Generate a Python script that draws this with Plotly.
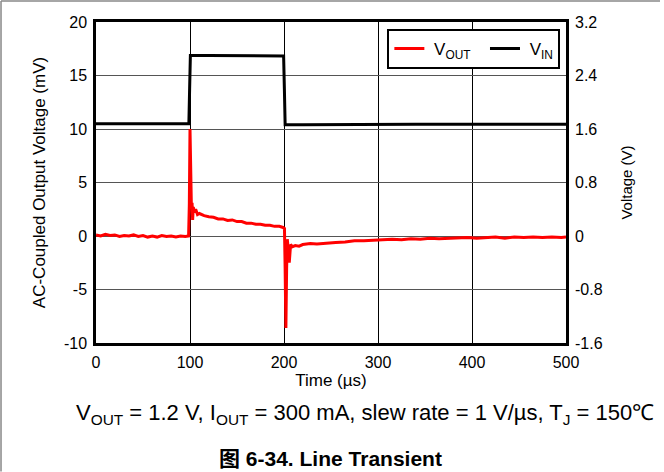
import plotly.graph_objects as go

# ---- data ----
t_vout = [0, 5, 10, 15, 20, 25, 30, 35, 40, 45, 50, 55, 60, 65, 70, 75, 80, 85, 90, 95, 98.5,
          99.3, 100, 100.8, 101.5, 102.2, 102.8, 103.5, 104.5, 106, 108, 110, 115, 120, 125, 130,
          135, 140, 145, 150, 155, 160, 165, 170, 175, 180, 185, 190, 195, 199, 200.5,
          201.2, 202.0, 202.8, 203.5, 204.5, 205.6, 207, 209, 212, 216, 220, 228, 235, 245, 255,
          265, 275, 285, 295, 305, 315, 325, 335, 345, 355, 365, 375, 385, 395, 405, 415, 425,
          435, 445, 455, 465, 475, 485, 495, 500]
v_vout = [0.1, 0.0, 0.15, 0.05, 0.1, -0.05, 0.05, 0.0, 0.1, -0.05, 0.05, -0.1, 0.0, -0.1, 0.05,
          -0.05, 0.0, -0.1, 0.0, -0.05, 0.0,
          3.0, 10.0, 5.0, 2.6, 3.1, 1.5, 2.7, 2.2, 2.5, 2.0, 2.1, 1.9, 1.8, 1.75, 1.6,
          1.6, 1.45, 1.5, 1.35, 1.35, 1.2, 1.2, 1.1, 1.1, 1.0, 1.0, 0.9, 0.9, 0.8, 0.7,
          -3.0, -8.6, -3.0, -0.3, -1.2, -2.5, -0.8, -1.0, -0.9, -0.95, -0.8, -0.7, -0.75, -0.65, -0.6,
          -0.55, -0.45, -0.45, -0.4, -0.35, -0.3, -0.35, -0.25, -0.3, -0.2, -0.25, -0.2, -0.2, -0.15, -0.2, -0.15, -0.1,
          -0.2, -0.1, -0.15, -0.1, -0.15, -0.1, -0.15, -0.1]

t_vin = [0, 20, 40, 60, 80, 98.8, 99.6, 100.4, 120, 140, 160, 180, 199.6, 200.4, 201.2,
         220, 260, 300, 340, 380, 420, 460, 500]
v_vin = [1.68, 1.68, 1.685, 1.68, 1.68, 1.68, 2.2, 2.70, 2.70, 2.695, 2.69, 2.69, 2.69, 2.2, 1.665,
         1.665, 1.67, 1.67, 1.67, 1.67, 1.67, 1.67, 1.67]

x_ticks = [0, 100, 200, 300, 400, 500]
y1_ticks = [-10, -5, 0, 5, 10, 15, 20]
y1_labels = ["-10", "-5", "0", "5", "10", "15", "20"]
y2_ticks = [-1.6, -0.8, 0, 0.8, 1.6, 2.4, 3.2]
y2_labels = ["-1.6", "-0.8", "0", "0.8", "1.6", "2.4", "3.2"]

FONT = "Liberation Sans, Arial, sans-serif"
NB = "\u00a0"

fig = go.Figure()
fig.add_trace(go.Scatter(x=t_vout, y=v_vout, mode="lines", name=NB + "V<sub>OUT</sub>" + NB + NB,
                         line=dict(color="#ff0000", width=3), yaxis="y"))
fig.add_trace(go.Scatter(x=t_vin, y=v_vin, mode="lines", name=NB + "V<sub>IN</sub>",
                         line=dict(color="#000000", width=3), yaxis="y2"))

fig.update_layout(
    width=664, height=472,
    margin=dict(l=96, r=98, t=22, b=129, autoexpand=False),
    paper_bgcolor="white", plot_bgcolor="white",
    font=dict(family=FONT, size=16, color="black"),
    showlegend=True,
    legend=dict(orientation="h", x=0.988, xanchor="right", y=0.978, yanchor="top",
                bordercolor="black", borderwidth=2, bgcolor="white",
                font=dict(size=17), itemwidth=30),
    xaxis=dict(range=[0, 500], tickvals=x_ticks, showgrid=True, gridcolor="black", gridwidth=1,
               zeroline=False, showline=True, linecolor="black", linewidth=2.5, mirror=True,
               ticks="", ticklabelstandoff=3,
               title=dict(text="Time (µs)", font=dict(size=17), standoff=4)),
    yaxis=dict(range=[-10, 20], tickvals=y1_ticks, ticktext=y1_labels, showgrid=True,
               gridcolor="#555555", gridwidth=1,
               zeroline=False, showline=True, linecolor="black", linewidth=2.5, mirror=True,
               ticks="", ticklabelstandoff=3,
               title=dict(text="AC-Coupled Output Voltage (mV)", font=dict(size=17), standoff=14)),
    yaxis2=dict(range=[-1.6, 3.2], tickvals=y2_ticks, ticktext=y2_labels, overlaying="y", side="right",
                showgrid=False, zeroline=False, showline=False, ticks="", ticklabelstandoff=8,
                title=dict(text="Voltage (V)", font=dict(size=15), standoff=19)),
)

fig.add_annotation(text="V<sub>OUT</sub> = 1.2 V, I<sub>OUT</sub> = 300 mA, slew rate = 1 V/µs, T<sub>J</sub> = 150℃",
                   xref="paper", yref="paper", x=0.573, y=-0.221, showarrow=False,
                   font=dict(size=22, family=FONT), xanchor="center", yanchor="middle")
fig.add_annotation(text="<b>图 6-34. Line Transient</b>",
                   xref="paper", yref="paper", x=0.499, y=-0.361, showarrow=False,
                   font=dict(size=21, family="Liberation Sans, Noto Sans CJK SC, sans-serif"),
                   xanchor="center", yanchor="middle")

# frame lines at the left and top of the picture
fig.add_shape(type="line", xref="paper", yref="paper", x0=-0.2021, x1=1.2, y0=1.0654, y1=1.0654,
              line=dict(color="#888888", width=1.5))
fig.add_shape(type="line", xref="paper", yref="paper", x0=-0.2021, x1=-0.2021, y0=-0.40, y1=1.0654,
              line=dict(color="#888888", width=1.5))

fig.write_html("out.html", config={"displayModeBar": False},
               post_script="document.body.style.margin='0';document.body.style.overflow='hidden';")
